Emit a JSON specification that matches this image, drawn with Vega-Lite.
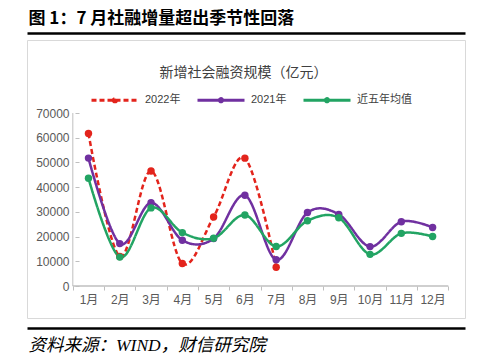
{
  "$schema": "https://vega.github.io/schema/vega-lite/v6.json",
  "width": 438,
  "height": 278,
  "autosize": {"type": "none"},
  "padding": {"left": 27, "top": 40, "right": 35, "bottom": 45},
  "background": "white",
  "config": {
    "view": {"stroke": "#d9d9d9", "strokeWidth": 1},
    "font": "Noto Sans CJK SC"
  },
  "datasets": {
    "months": [
      {"m": "1月"}, {"m": "2月"}, {"m": "3月"}, {"m": "4月"}, {"m": "5月"}, {"m": "6月"},
      {"m": "7月"}, {"m": "8月"}, {"m": "9月"}, {"m": "10月"}, {"m": "11月"}, {"m": "12月"}
    ],
    "tsf": [
      {"m": "1月", "s": "2022年", "v": 61726},
      {"m": "2月", "s": "2022年", "v": 11928},
      {"m": "3月", "s": "2022年", "v": 46531},
      {"m": "4月", "s": "2022年", "v": 9102},
      {"m": "5月", "s": "2022年", "v": 27917},
      {"m": "6月", "s": "2022年", "v": 51733},
      {"m": "7月", "s": "2022年", "v": 7561},
      {"m": "1月", "s": "2021年", "v": 51742},
      {"m": "2月", "s": "2021年", "v": 17159},
      {"m": "3月", "s": "2021年", "v": 33675},
      {"m": "4月", "s": "2021年", "v": 18526},
      {"m": "5月", "s": "2021年", "v": 19175},
      {"m": "6月", "s": "2021年", "v": 36699},
      {"m": "7月", "s": "2021年", "v": 10599},
      {"m": "8月", "s": "2021年", "v": 29711},
      {"m": "9月", "s": "2021年", "v": 28982},
      {"m": "10月", "s": "2021年", "v": 15944},
      {"m": "11月", "s": "2021年", "v": 26010},
      {"m": "12月", "s": "2021年", "v": 23682},
      {"m": "1月", "s": "近五年均值", "v": 43600},
      {"m": "2月", "s": "近五年均值", "v": 11700},
      {"m": "3月", "s": "近五年均值", "v": 31600},
      {"m": "4月", "s": "近五年均值", "v": 21600},
      {"m": "5月", "s": "近五年均值", "v": 19300},
      {"m": "6月", "s": "近五年均值", "v": 28700},
      {"m": "7月", "s": "近五年均值", "v": 16000},
      {"m": "8月", "s": "近五年均值", "v": 26400},
      {"m": "9月", "s": "近五年均值", "v": 27600},
      {"m": "10月", "s": "近五年均值", "v": 12800},
      {"m": "11月", "s": "近五年均值", "v": 21300},
      {"m": "12月", "s": "近五年均值", "v": 20000}
    ]
  },
  "resolve": {"axis": {"x": "independent", "y": "independent"}},
  "layer": [
    {
      "data": {"name": "months"},
      "mark": {"type": "rect", "fill": null, "fillOpacity": 0, "stroke": "#bfbfbf", "strokeWidth": 1},
      "encoding": {
        "x": {
          "field": "m", "type": "nominal", "sort": null,
          "scale": {"type": "band", "domain": ["1月","2月","3月","4月","5月","6月","7月","8月","9月","10月","11月","12月"], "paddingInner": 0, "paddingOuter": 1.1608, "align": 0.7324},
          "axis": {
            "orient": "top", "offset": 7, "domainColor": "#000000", "domainWidth": 2.5,
            "ticks": false, "labels": false, "grid": false,
            "title": "图 1：7 月社融增量超出季节性回落",
            "titleX": 1, "titleY": -15, "titleAlign": "left", "titleBaseline": "middle",
            "titleFontSize": 17, "titleFontWeight": "bold", "titleColor": "#000000",
            "titleFont": "Noto Sans CJK SC"
          }
        },
        "y": {"datum": 0, "type": "quantitative", "axis": null},
        "y2": {"datum": 0}
      }
    },
    {
      "data": {"values": [{"m": "1月"}]},
      "mark": {"type": "rule", "stroke": "#bfbfbf", "strokeWidth": 1},
      "encoding": {
        "x": {
          "field": "m", "type": "nominal", "sort": null, "bandPosition": 0,
          "scale": {"type": "band", "domain": ["1月","2月","3月","4月","5月","6月","7月","8月","9月","10月","11月","12月"], "paddingInner": 0, "paddingOuter": 1.1608, "align": 0.7324},
          "axis": {
            "orient": "bottom", "offset": 10, "domainColor": "#000000", "domainWidth": 2.5,
            "ticks": false, "labels": false, "grid": false,
            "title": "资料来源：WIND，财信研究院",
            "titleX": 1, "titleY": 17, "titleAlign": "left", "titleBaseline": "middle",
            "titleFontSize": 17.5, "titleFontWeight": "normal", "titleFontStyle": "italic", "titleColor": "#000000",
            "titleFont": "Liberation Serif, Noto Sans CJK SC"
          }
        },
        "y": {"datum": 0, "type": "quantitative", "axis": null},
        "y2": {"datum": 70000}
      }
    },
    {
      "data": {"name": "tsf"},
      "mark": {"type": "line", "interpolate": "cardinal", "strokeWidth": 2.5, "point": {"filled": true, "size": 55, "opacity": 1}},
      "encoding": {
        "x": {
          "field": "m", "type": "nominal", "sort": null,
          "scale": {"type": "band", "domain": ["1月","2月","3月","4月","5月","6月","7月","8月","9月","10月","11月","12月"], "paddingInner": 0, "paddingOuter": 1.1608, "align": 0.7324},
          "axis": {
            "orient": "bottom", "offset": -32, "domain": false, "grid": false,
            "ticks": true, "tickBand": "extent", "tickSize": 4, "tickColor": "#bfbfbf",
            "labelAngle": 0, "labelFontSize": 12, "labelColor": "#595959", "labelPadding": 4,
            "labelFont": "Liberation Sans, Noto Sans CJK SC",
            "title": null
          }
        },
        "y": {
          "field": "v", "type": "quantitative",
          "scale": {"domain": [-12948, 99538], "nice": false, "zero": false},
          "axis": {
            "orient": "left", "offset": -52, "domain": false, "grid": false,
            "values": [0, 10000, 20000, 30000, 40000, 50000, 60000, 70000],
            "format": "d",
            "ticks": true, "tickSize": 4, "tickColor": "#bfbfbf",
            "labelFontSize": 12, "labelColor": "#595959", "labelPadding": 6,
            "labelFont": "Liberation Sans",
            "title": "新增社会融资规模（亿元）",
            "titleAngle": 0, "titleX": 164, "titleY": 32, "titleAlign": "center", "titleBaseline": "middle",
            "titleFontSize": 14, "titleFontWeight": "normal", "titleColor": "#404040",
            "titleFont": "Noto Sans CJK SC"
          }
        },
        "color": {
          "field": "s", "type": "nominal",
          "scale": {"domain": ["2022年", "2021年", "近五年均值"], "range": ["#E3241C", "#7030A0", "#22A463"]},
          "legend": {
            "orient": "none", "legendX": 63, "legendY": 35, "direction": "horizontal", "title": null,
            "symbolType": "M-1,0L1,0M-0.07,0A0.07,0.07,0,1,0,0.07,0A0.07,0.07,0,1,0,-0.07,0",
            "symbolSize": 2209, "symbolStrokeWidth": 3,
            "labelFontSize": 11, "labelColor": "#404040", "labelOffset": 5, "columnPadding": 10,
            "labelFont": "Liberation Sans, Noto Sans CJK SC"
          }
        },
        "strokeDash": {
          "field": "s", "type": "nominal",
          "scale": {"domain": ["2022年", "2021年", "近五年均值"], "range": [[5, 3], [1, 0], [1, 0]]},
          "legend": {
            "orient": "none", "legendX": 63, "legendY": 35, "direction": "horizontal", "title": null,
            "symbolType": "M-1,0L1,0M-0.07,0A0.07,0.07,0,1,0,0.07,0A0.07,0.07,0,1,0,-0.07,0",
            "symbolSize": 2209, "symbolStrokeWidth": 3,
            "labelFontSize": 11, "labelColor": "#404040", "labelOffset": 5, "columnPadding": 10,
            "labelFont": "Liberation Sans, Noto Sans CJK SC"
          }
        }
      }
    }
  ]
}
